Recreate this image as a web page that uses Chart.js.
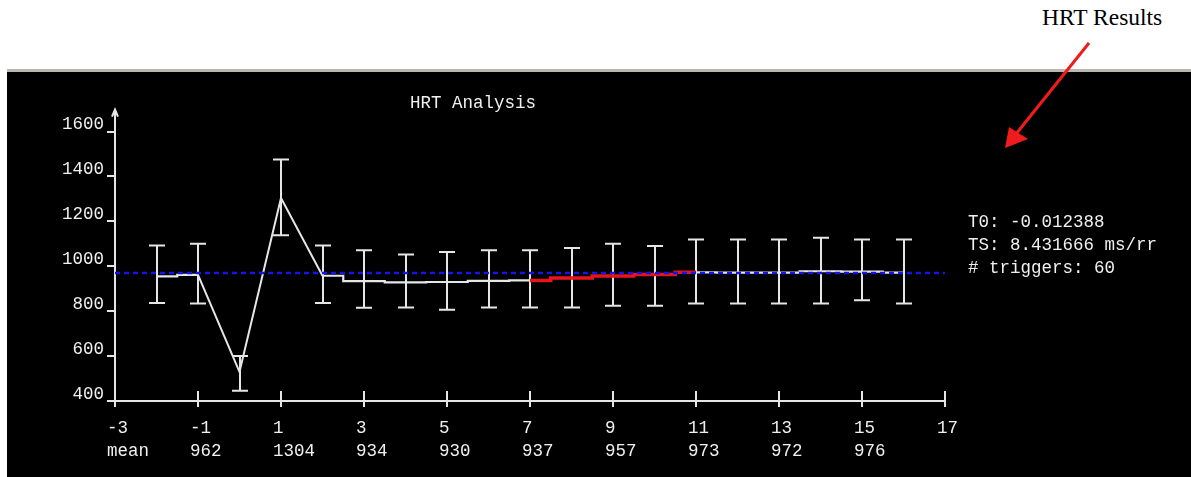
<!DOCTYPE html>
<html>
<head>
<meta charset="utf-8">
<title>HRT Analysis</title>
<script src="https://cdn.jsdelivr.net/npm/chart.js@4.4.1/dist/chart.umd.min.js"></script>
<style>
  html, body { margin: 0; padding: 0; background: #fff; }
  #wrap { position: relative; width: 1191px; height: 477px; overflow: hidden; }
  #panel { position: absolute; left: 7px; top: 69px; right: 0; bottom: 0; background: #000;
           border-top: 3px solid #bcb8b0; }
  #chartBox { position: absolute; left: 0; top: 0; width: 1191px; height: 477px; }
  .mono { position: absolute; font-family: "Liberation Mono", "DejaVu Sans Mono", monospace;
          font-size: 17.5px; color: #f0f0f0; white-space: pre; line-height: 23px; }
  #title { left: 410px; top: 92px; }
  #stats { left: 968px; top: 211px; }
  #note { position: absolute; left: 1042px; top: 4px; font-family: "Liberation Serif", serif;
          font-size: 23.5px; color: #000; white-space: nowrap; }
  #arrow { position: absolute; left: 0; top: 0; }
</style>
</head>
<body>
<div id="wrap">
  <div id="panel"></div>
  <div id="note">HRT Results</div>
  <svg id="arrow" width="1191" height="477">
    <line x1="1089" y1="43" x2="1016" y2="134" stroke="#ee1c1c" stroke-width="3"/>
    <polygon points="1005,148 1009,127 1028,139" fill="#ee1c1c"/>
  </svg>
  <div id="chartBox"><canvas id="hrt"></canvas></div>
  <div class="mono" id="title">HRT Analysis</div>
  <div class="mono" id="stats"></div>
</div>
<script>
// Beat index relative to the PVC and averaged RR interval (ms) at each beat
const beatIndex = [-2, -1, 0, 1, 2, 3, 4, 5, 6, 7, 8, 9, 10, 11, 12, 13, 14, 15, 16];
const rrMean    = [955, 962, 530, 1304, 958, 934, 928, 930, 935, 937, 948, 957, 963, 973, 972, 972, 978, 976, 972];
const rrUpper   = [1093, 1101, 601, 1476, 1093, 1071, 1053, 1064, 1071, 1071, 1081, 1101, 1090, 1119, 1119, 1119, 1127, 1119, 1119];
const rrLower   = [836, 834, 446, 1138, 836, 815, 816, 807, 816, 816, 816, 824, 824, 834, 834, 834, 834, 849, 834];

// Axis ticks and the row of means printed under them
const xTicks      = [-3, -1, 1, 3, 5, 7, 9, 11, 13, 15, 17];
const xTickMeans  = ['mean', '962', '1304', '934', '930', '937', '957', '973', '972', '976', ''];
const yTicks      = [400, 600, 800, 1000, 1200, 1400, 1600];

// Sinus-rhythm reference level and turbulence-slope window
const meanRR  = 970;
const tsStart = 7;
const tsEnd   = 11;

const statLines = ['T0: -0.012388', 'TS: 8.431666 ms/rr', '# triggers: 60'];
document.getElementById('stats').textContent = statLines.join('\n');

const WHITE = '#e6e6e6';
const RED = '#e8141c';
const FONT = '"Liberation Mono", "DejaVu Sans Mono", monospace';

const points = beatIndex.map((x, i) => ({ x, y: rrMean[i] }));
const at = b => beatIndex.indexOf(b);

// Error bars (whisker + caps) drawn through the chart scales
const errorBars = {
  id: 'errorBars',
  beforeDatasetsDraw(chart) {
    const { ctx, scales: { x, y } } = chart;
    ctx.save();
    ctx.strokeStyle = WHITE;
    ctx.lineWidth = 2;
    beatIndex.forEach((b, i) => {
      const px = Math.round(x.getPixelForValue(b));
      const top = y.getPixelForValue(rrUpper[i]);
      const bot = y.getPixelForValue(rrLower[i]);
      ctx.beginPath();
      ctx.moveTo(px, top); ctx.lineTo(px, bot);
      ctx.moveTo(px - 8, top); ctx.lineTo(px + 8, top);
      ctx.moveTo(px - 8, bot); ctx.lineTo(px + 8, bot);
      ctx.stroke();
    });
    ctx.restore();
  }
};

// Arrow tip on the value axis and the upper half of the x tick marks
const axisMarks = {
  id: 'axisMarks',
  afterDraw(chart) {
    const { ctx, chartArea, scales: { x, y } } = chart;
    const ax = x.getPixelForValue(-3);
    const ay = y.getPixelForValue(400);
    ctx.save();
    ctx.strokeStyle = WHITE;
    ctx.lineWidth = 2;
    ctx.beginPath();
    ctx.moveTo(ax, chartArea.top); ctx.lineTo(ax, chartArea.top - 22);
    ctx.moveTo(ax - 3, chartArea.top - 15); ctx.lineTo(ax, chartArea.top - 22); ctx.lineTo(ax + 3, chartArea.top - 15);
    xTicks.slice(1).forEach(v => {
      const px = Math.round(x.getPixelForValue(v));
      ctx.moveTo(px, ay - 10); ctx.lineTo(px, ay);
    });
    ctx.stroke();
    ctx.restore();
  }
};

const inTS = c => c.p0.parsed.x >= tsStart && c.p1.parsed.x <= tsEnd;

new Chart(document.getElementById('hrt'), {
  type: 'line',
  data: {
    datasets: [
      {
        label: 'mean RR',
        data: [{ x: -3, y: meanRR }, { x: 17, y: meanRR }],
        borderColor: '#1414f0',
        borderWidth: 2.5,
        borderDash: [5, 4],
        pointRadius: 0
      },
      {
        label: 'pre-PVC',
        data: points.slice(0, at(-1) + 1),
        stepped: 'middle',
        borderColor: WHITE,
        borderWidth: 2.2,
        pointRadius: 0
      },
      {
        label: 'PVC',
        data: points.slice(at(-1), at(2) + 1),
        borderColor: WHITE,
        borderWidth: 2,
        pointRadius: 0
      },
      {
        label: 'post-PVC',
        data: points.slice(at(2)),
        stepped: 'middle',
        borderColor: WHITE,
        borderWidth: 2.2,
        pointRadius: 0,
        segment: {
          borderColor: c => inTS(c) ? RED : WHITE,
          borderWidth: c => inTS(c) ? 3.5 : 2.2
        }
      }
    ]
  },
  options: {
    responsive: true,
    maintainAspectRatio: false,
    animation: false,
    events: [],
    layout: { padding: { top: 131.6, right: 246, left: 0, bottom: 0 } },
    plugins: { legend: { display: false }, tooltip: { enabled: false }, title: { display: false } },
    scales: {
      x: {
        type: 'linear',
        min: -3,
        max: 17,
        afterFit: s => { s.height = 76; },
        afterBuildTicks: s => { s.ticks = xTicks.map(v => ({ value: v })); },
        ticks: {
          autoSkip: false,
          maxRotation: 0,
          minRotation: 0,
          align: 'start',
          labelOffset: -8,
          padding: 10,
          color: '#f0f0f0',
          font: { family: FONT, size: 17.5, lineHeight: 1.3 },
          callback: v => [String(v), xTickMeans[xTicks.indexOf(v)]]
        },
        grid: { drawOnChartArea: false, drawTicks: true, tickLength: 6, color: WHITE, lineWidth: 2 },
        border: { display: true, color: WHITE, width: 2 }
      },
      y: {
        type: 'linear',
        min: 400,
        max: 1600,
        afterFit: s => { s.width = 115; },
        afterBuildTicks: s => { s.ticks = yTicks.map(v => ({ value: v })); },
        ticks: {
          padding: 3,
          color: '#f0f0f0',
          font: { family: FONT, size: 17.5, lineHeight: 0.8 },
          callback: v => [String(v), '']
        },
        grid: { drawOnChartArea: false, drawTicks: true, tickLength: 8, color: WHITE, lineWidth: 2 },
        border: { display: true, color: WHITE, width: 2 }
      }
    }
  },
  plugins: [errorBars, axisMarks]
});
</script>
</body>
</html>
